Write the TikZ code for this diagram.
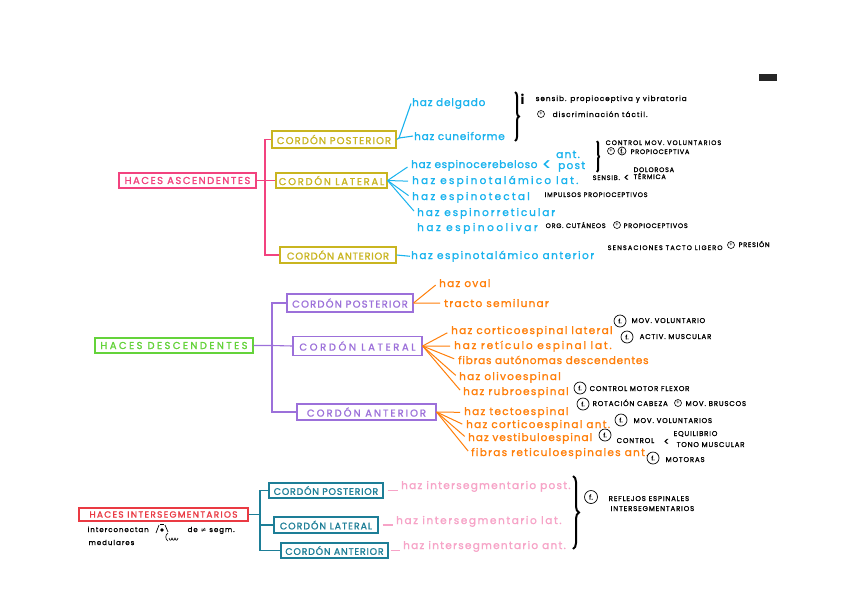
\documentclass[tikz,border=0pt]{standalone}
\usepackage{fontspec}
\setmainfont{Poppins}
\newfontfamily\handB[FakeBold=1.3]{Poppins}
\newfontfamily\symf{DejaVu Sans}
\usetikzlibrary{decorations.pathreplacing}
\definecolor{cpink}{HTML}{F2437F}
\definecolor{colive}{HTML}{C9B520}
\definecolor{ccyan}{HTML}{19B3EE}
\definecolor{cgreen}{HTML}{64D33A}
\definecolor{cpurple}{HTML}{9C70DA}
\definecolor{corange}{HTML}{FF7F0A}
\definecolor{cred}{HTML}{EA3A43}
\definecolor{cteal}{HTML}{1D7E97}
\definecolor{clpink}{HTML}{F7A3C7}
\pgfkeys{/tikz/fs/.initial=10,/tikz/ls/.initial=12}
\newcommand\hf{\pgfkeysgetvalue{/tikz/fs}\myfs\pgfkeysgetvalue{/tikz/ls}\mylsv
  \edef\tmpx{\noexpand\fontsize{\myfs}{\myfs}\noexpand\selectfont\noexpand\addfontfeature{LetterSpace=\mylsv}}%
  \handB\tmpx}
\tikzset{
  box/.style={draw, line width=1.1pt, inner sep=0pt, fs=10, ls=12, font=\hf},
  item/.style={anchor=base west, inner sep=1pt, fs=10.5, ls=12, font=\hf},
  note/.style={anchor=base west, inner sep=0.5pt, text=black, fs=6.5, ls=12, font=\hf},
  bnote/.style={note, fs=7},
  lnote/.style={note, fs=7.2},
  circf/.style={draw, circle, line width=0.7pt, inner sep=0pt, minimum size=10pt, fs=6, ls=0, font=\hf},
  circp/.style={draw, circle, line width=0.6pt, inner sep=0pt, minimum size=7pt, font=\fontsize{5.5}{5.5}\selectfont},
  link/.style={line width=1.1pt},
  fan/.style={line width=1pt, shorten >=3pt},
  brc/.style={decorate, decoration={brace, amplitude=#1}, line width=2pt},
}
\begin{document}
\begin{tikzpicture}[x=1pt,y=-1pt]
\fill[white] (0,0) rectangle (848,600);
\useasboundingbox (0,0) rectangle (848,600);

\node[fill=black!85, minimum width=18pt, minimum height=7pt, inner sep=0pt] (mark) at (768,77.5) {};

% ---------------- HACES ASCENDENTES ----------------
\node[box, draw=cpink, text=cpink, ls=15, minimum width=137pt, minimum height=15pt] (asc) at (187.5,180.5) {HACES ASCENDENTES};
\node[box, draw=colive, text=colive, ls=11, minimum width=124pt, minimum height=17pt] (ap) at (334,139.5) {CORDÓN POSTERIOR};
\node[box, draw=colive, text=colive, ls=17, minimum width=111pt, minimum height=15pt] (al) at (331.5,180.5) {CORDÓN LATERAL};
\node[box, draw=colive, text=colive, ls=7, minimum width=116pt, minimum height=16pt] (aa) at (338,255) {CORDÓN ANTERIOR};
\coordinate (aj) at (265,180.5);
\draw[link,cpink] (asc.east) -- (aj) -- (al.west);
\draw[link,cpink] (aj) |- (ap.west);
\draw[link,cpink] (aj) |- (aa.west);

\node[item, text=ccyan, ls=8] (cd) at (411,106) {haz delgado};
\node[item, text=ccyan, ls=7] (cc) at (413,140) {haz cuneiforme};
\node[item, text=ccyan, ls=6] (ce) at (410,168) {haz espinocerebeloso};
\node[item, text=ccyan, fs=16] (cel) at (541,170) {<};
\node[item, text=ccyan] (cea) at (555,158) {ant.};
\node[item, text=ccyan] (cep) at (557,169) {post};
\node[item, text=ccyan, ls=21] (ct) at (411,184) {haz espinotalámico lat.};
\node[item, text=ccyan, ls=21] (cte) at (411,200) {haz espinotectal};
\node[item, text=ccyan, ls=18] (cr) at (416,216) {haz espinorreticular};
\node[item, text=ccyan, ls=24] (co) at (416,231) {haz espinoolivar};
\node[item, text=ccyan, ls=14] (cta) at (410,259) {haz espinotalámico anterior};
\coordinate (apj) at (399,138);
\draw[link,ccyan] (ap.east) -- (apj) -- (cd.west);
\draw[link,ccyan] (apj) -- (cc.west);
\foreach \n in {ce,ct,cte,cr} \draw[fan,ccyan] (al.east) -- (\n.west);
\draw[link,ccyan] (aa.east) -- (cta.west);

\draw[brc=4pt] (515,92) -- (515,141);
\node[anchor=base west, inner sep=0.5pt, font=\bfseries\fontsize{13}{13}\selectfont] (ni) at (520,104) {i};
\node[lnote, ls=14] (n1) at (535,101) {sensib. propioceptiva y vibratoria};
\node[circp] (c1) at (541,114) {+};
\node[lnote, ls=14] (n2) at (552,117) {discriminación táctil.};

\draw[brc=2pt] (597,141) -- (597,172);
\node[note, ls=16] (n3) at (605,145) {CONTROL MOV. VOLUNTARIOS};
\node[circp] (c2) at (611,151) {+};
\node[circf, minimum size=8pt] (c3) at (622,151) {f.};
\node[note] (n4) at (630,154) {PROPIOCEPTIVA};
\node[note] (n5) at (592,180) {SENSIB.};
\node[note, fs=10] (n5l) at (623,181) {<};
\node[note] (n6) at (633,172) {DOLOROSA};
\node[note] (n7) at (633,179) {TÉRMICA};
\node[note] (n8) at (544,197) {IMPULSOS PROPIOCEPTIVOS};
\node[note] (n9) at (545,228) {ORG. CUTÁNEOS};
\node[circp] (c4) at (617,225) {+};
\node[note] (n10) at (623,228) {PROPIOCEPTIVOS};
\node[note, ls=18] (n11) at (607,250) {SENSACIONES TACTO LIGERO};
\node[circp] (c5) at (731,245) {+};
\node[note] (n12) at (738,247) {PRESIÓN};

% ---------------- HACES DESCENDENTES ----------------
\node[box, draw=cgreen, text=cgreen, ls=24, minimum width=158pt, minimum height=15pt] (desc) at (174,345.5) {HACES DESCENDENTES};
\node[box, draw=cpurple, text=cpurple, ls=12, minimum width=126pt, minimum height=18pt] (dp) at (350,303) {CORDÓN POSTERIOR};
\node[box, draw=cpurple, text=cpurple, ls=26, minimum width=129pt, minimum height=19pt] (dl) at (357.5,346) {CORDÓN LATERAL};
\node[box, draw=cpurple, text=cpurple, ls=20, minimum width=139pt, minimum height=16pt] (da) at (366.5,412) {CORDÓN ANTERIOR};
\coordinate (dj) at (272,345.5);
\draw[link,cpurple] (desc.east) -- (dj) -- (dl.west);
\draw[link,cpurple] (dj) |- (dp.west);
\draw[link,cpurple] (dj) |- (da.west);

\node[item, text=corange] (oo) at (438,287) {haz oval};
\node[item, text=corange] (os) at (443,307) {tracto semilunar};
\node[item, text=corange] (ol1) at (450,334) {haz corticoespinal lateral};
\node[item, text=corange, ls=17] (ol2) at (453,349) {haz retículo espinal lat.};
\node[item, text=corange, ls=7] (ol3) at (457,364) {fibras autónomas descendentes};
\node[item, text=corange] (ol4) at (458,380) {haz olivoespinal};
\node[item, text=corange] (ol5) at (462,395) {haz rubroespinal};
\node[item, text=corange] (oa1) at (463,415) {haz tectoespinal};
\node[item, text=corange] (oa2) at (465,428) {haz corticoespinal ant.};
\node[item, text=corange, ls=9] (oa3) at (467,441) {haz vestibuloespinal};
\node[item, text=corange] (oa4) at (470,456) {fibras reticuloespinales ant.};
\foreach \n in {oo,os} \draw[fan,corange] (dp.east) -- (\n.west);
\foreach \n in {ol1,ol2,ol3,ol4,ol5} \draw[fan,corange] (dl.east) -- (\n.west);
\foreach \n in {oa1,oa2,oa3,oa4} \draw[fan,corange] (da.east) -- (\n.west);

\node[circf, minimum size=12pt] (f1) at (620,321) {f.};
\node[bnote] (m1) at (631,323) {MOV. VOLUNTARIO};
\node[circf, minimum size=12pt] (f2) at (627,337) {f.};
\node[bnote] (m2) at (639,339) {ACTIV. MUSCULAR};
\node[circf, minimum size=12pt] (f3) at (580,388) {f.};
\node[bnote] (m3) at (589,391) {CONTROL MOTOR FLEXOR};
\node[circf, minimum size=12pt] (f4) at (583,404) {f.};
\node[bnote] (m4) at (592,406) {ROTACIÓN CABEZA};
\node[circp] (c6) at (678,403) {+};
\node[bnote] (m5) at (685,406) {MOV. BRUSCOS};
\node[circf, minimum size=12pt] (f5) at (621,420) {f.};
\node[bnote] (m6) at (633,423) {MOV. VOLUNTARIOS};
\node[circf, minimum size=12pt] (f6) at (605,435) {f.};
\node[bnote] (m7) at (616,443) {CONTROL};
\node[bnote, fs=10] (m8) at (663,445) {<};
\node[bnote] (m9) at (673,436) {EQUILIBRIO};
\node[bnote] (m10) at (676,447) {TONO MUSCULAR};
\node[circf, minimum size=12pt] (f7) at (653,458) {f.};
\node[bnote] (m11) at (665,462) {MOTORAS};

% ---------------- HACES INTERSEGMENTARIOS ----------------
\node[box, draw=cred, text=cred, fs=9, ls=14, minimum width=169pt, minimum height=13pt] (inter) at (163.5,514.5) {HACES INTERSEGMENTARIOS};
\node[box, draw=cteal, text=cteal, fs=9.5, ls=8, minimum width=114pt, minimum height=15pt] (ip) at (326,490.5) {CORDÓN POSTERIOR};
\node[box, draw=cteal, text=cteal, fs=9.5, ls=10, minimum width=104pt, minimum height=16pt] (il) at (326,525) {CORDÓN LATERAL};
\node[box, draw=cteal, text=cteal, fs=9.5, ls=8, minimum width=107pt, minimum height=15pt] (ia) at (334.5,550.5) {CORDÓN ANTERIOR};
\coordinate (ij) at (260,514.5);
\draw[link,cteal] (inter.east) -- (ij);
\draw[link,cteal] (ij) |- (ip.west);
\draw[link,cteal] (ij) |- (il.west);
\draw[link,cteal] (ij) |- (ia.west);

\node[item, text=clpink] (tp) at (400,489) {haz intersegmentario post.};
\node[item, text=clpink, ls=15] (tl) at (395,524) {haz intersegmentario lat.};
\node[item, text=clpink] (ta) at (402,549) {haz intersegmentario ant.};
\draw[link,clpink, shorten <=4pt, shorten >=2pt] (ip.east) -- (ip.east -| tp.west);
\draw[link,clpink, shorten <=4pt, shorten >=2pt] (il.east) -- (il.east -| tl.west);
\draw[link,clpink, shorten <=2pt, shorten >=2pt] (ia.east) -- (ia.east -| ta.west);

\draw[brc=6pt] (573,476) -- (573,549);
\node[circf, minimum size=13pt, fs=7] (f8) at (591,497) {f.};
\node[bnote] (r1) at (608,501) {REFLEJOS ESPINALES};
\node[bnote] (r2) at (610,511) {INTERSEGMENTARIOS};

\node[bnote, ls=14] (ic) at (87,532) {interconectan};
\node[bnote, ls=14] (im) at (88,545) {medulares};
\node[bnote, ls=14] (id) at (187,532) {de {\symf ≠} segm.};
% neuron sketch
\fill (162,530) circle (1.8pt);
\draw[line width=0.7pt] (156,533) -- (159,525);
\draw[line width=0.7pt] (165,525) -- (168,532);
\draw[line width=0.6pt] (160,524) -- (164,524);
\draw[line width=0.6pt] (168,533) .. controls (165,535) and (165,539) .. (168,541);
\draw[line width=0.6pt] (169,538) .. controls (170,541) and (171,541) .. (172,538) .. controls (173,541) and (174,541) .. (175,538) .. controls (176,541) and (177,541) .. (178,538);
\end{tikzpicture}
\end{document}
